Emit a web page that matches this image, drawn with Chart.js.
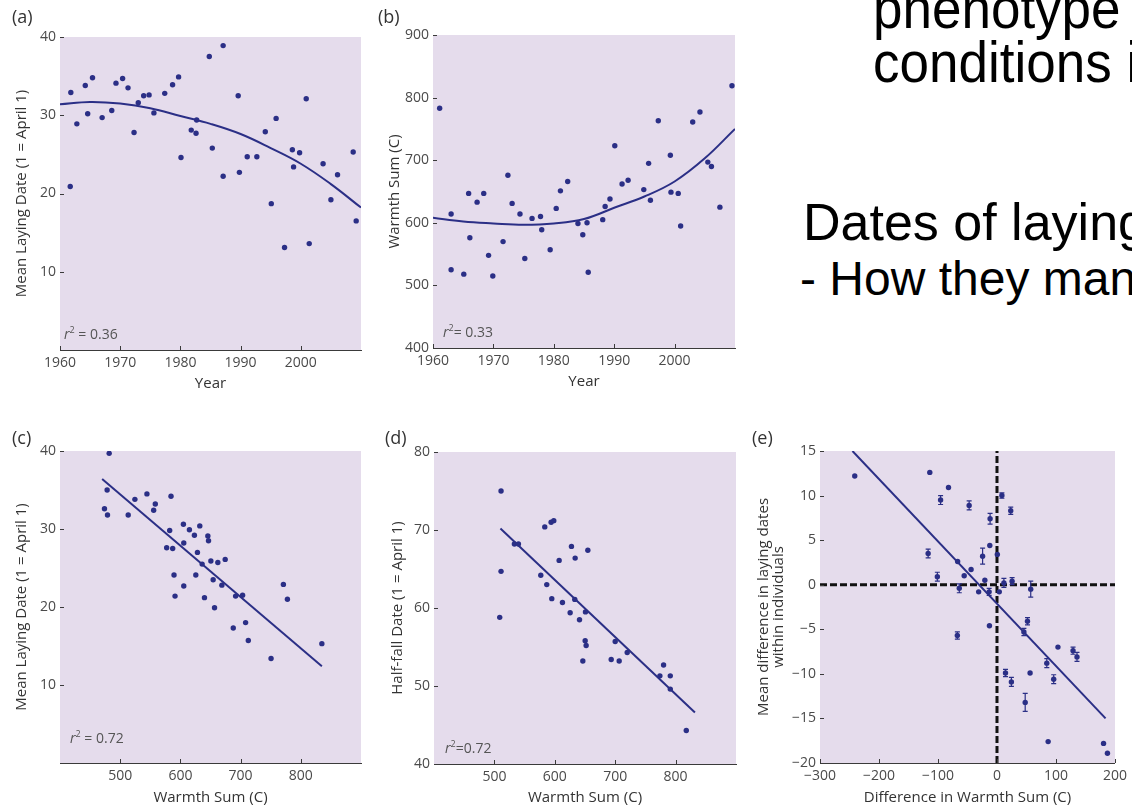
<!DOCTYPE html>
<html>
<head>
<meta charset="utf-8">
<script src="https://cdn.jsdelivr.net/npm/chart.js@4.4.1/dist/chart.umd.min.js"></script>
<style>
  html, body { margin: 0; padding: 0; background: #fff; }
  body { width: 1132px; height: 806px; position: relative; overflow: hidden; font-family: "Open Sans", sans-serif; }
  canvas { position: absolute; }
  .lbl { position: absolute; font-size: 18px; line-height: 22px; color: #333; }
  .r2 { position: absolute; font-size: 14px; line-height: 18px; color: #555; white-space: nowrap; }
  .r2 sup { font-size: 9px; vertical-align: 6px; line-height: 0; }
  .slide { position: absolute; font-family: "Liberation Sans", Arial, sans-serif; color: #000; white-space: nowrap; line-height: 1; }
  .tall { transform: scaleY(1.1); transform-origin: 0 85%; }
</style>
</head>
<body>
<canvas id="chartA" width="370" height="380" style="left:0px;top:20px"></canvas>
<canvas id="chartB" width="380" height="380" style="left:370px;top:20px"></canvas>
<canvas id="chartC" width="370" height="376" style="left:0px;top:430px"></canvas>
<canvas id="chartD" width="380" height="376" style="left:370px;top:430px"></canvas>
<canvas id="chartE" width="392" height="376" style="left:740px;top:430px"></canvas>

<div class="lbl" style="left:12px;top:5px">(a)</div>
<div class="lbl" style="left:378px;top:5px">(b)</div>
<div class="lbl" style="left:12px;top:426px">(c)</div>
<div class="lbl" style="left:385px;top:426px">(d)</div>
<div class="lbl" style="left:752px;top:426px">(e)</div>

<div class="r2" style="left:64px;top:325px"><i>r</i><sup>2</sup> = 0.36</div>
<div class="r2" style="left:443px;top:323px"><i>r</i><sup>2</sup>= 0.33</div>
<div class="r2" style="left:70px;top:729px"><i>r</i><sup>2</sup> = 0.72</div>
<div class="r2" style="left:445px;top:739px"><i>r</i><sup>2</sup>=0.72</div>

<div class="slide tall" style="left:873px;top:-17px;font-size:53px">phenotype</div>
<div class="slide tall" style="left:873px;top:37px;font-size:53px">conditions in</div>
<div class="slide" style="left:803px;top:196px;font-size:52px">Dates of laying</div>
<div class="slide" style="left:800px;top:255px;font-size:48px">- How they manage</div>

<script>
// (a) mean laying date by year
const yearsA = [1961.8, 1961.7, 1962.8, 1964.2, 1964.6, 1965.4, 1967.0, 1968.6, 1969.3, 1970.4, 1971.3, 1972.3, 1973.0, 1973.9, 1974.8, 1975.6, 1977.4, 1978.7, 1979.7, 1980.1, 1981.8, 1982.6, 1982.7, 1984.8, 1985.3, 1987.1, 1987.1, 1989.6, 1989.8, 1991.1, 1992.7, 1994.1, 1995.1, 1995.9, 1997.3, 1998.6, 1998.8, 1999.8, 2000.9, 2001.4, 2003.7, 2005.0, 2006.1, 2008.7, 2009.2];
const layingA = [32.9, 20.9, 28.9, 33.8, 30.2, 34.8, 29.7, 30.6, 34.1, 34.7, 33.5, 27.8, 31.6, 32.5, 32.6, 30.3, 32.8, 33.9, 34.9, 24.6, 28.1, 27.7, 29.4, 37.5, 25.8, 38.9, 22.2, 32.5, 22.7, 24.7, 24.7, 27.9, 18.7, 29.6, 13.1, 25.6, 23.4, 25.2, 32.1, 13.6, 23.8, 19.2, 22.4, 25.3, 16.5];
const fitYearsA = [1960, 1965, 1970, 1975, 1980, 1985, 1990, 1995, 2000, 2005, 2010];
const fitA = [31.4, 31.7, 31.5, 30.9, 29.9, 28.9, 27.6, 25.8, 23.8, 21.2, 18.2];

// (b) warmth sum by year
const yearsB = [1961.1, 1963.0, 1963.0, 1965.1, 1965.9, 1966.1, 1967.3, 1968.4, 1969.2, 1969.9, 1971.6, 1972.4, 1973.1, 1974.4, 1975.2, 1976.4, 1977.8, 1978.0, 1979.4, 1980.4, 1981.1, 1982.3, 1984.0, 1984.8, 1985.5, 1985.7, 1988.1, 1988.5, 1989.3, 1990.1, 1991.3, 1992.3, 1994.9, 1995.7, 1996.0, 1997.3, 1999.3, 1999.4, 2000.6, 2001.0, 2003.0, 2004.2, 2005.5, 2006.1, 2007.5, 2009.5];
const warmthB = [783, 614, 525, 518, 647, 576, 633, 647, 548, 515, 570, 676, 631, 614, 543, 607, 610, 589, 557, 623, 651, 666, 599, 581, 600, 521, 605, 626, 638, 723, 662, 668, 653, 695, 636, 763, 708, 649, 647, 595, 761, 777, 697, 690, 625, 819];
const fitYearsB = [1960, 1965, 1970, 1975, 1980, 1985, 1990, 1995, 2000, 2005, 2010];
const fitB = [608, 602, 599, 597, 599, 606, 624, 642, 666, 703, 750];

// (c) laying date vs warmth sum
const warmthC = [481.7, 473.9, 478.3, 478.9, 513.3, 524.4, 544.4, 555.6, 558.3, 584.4, 582.2, 577.2, 587.2, 589.4, 591.1, 605.0, 605.6, 605.6, 615.0, 623.3, 625.6, 628.3, 632.2, 636.1, 640.0, 645.6, 646.7, 650.6, 654.4, 656.7, 662.2, 668.9, 674.4, 687.8, 691.7, 703.3, 708.3, 712.8, 750.6, 771.1, 777.8, 835.0];
const layingC = [39.7, 32.6, 35.0, 31.8, 31.8, 33.8, 34.5, 32.4, 33.2, 34.2, 29.8, 27.6, 27.5, 24.1, 21.4, 30.6, 28.2, 22.7, 29.9, 29.2, 24.1, 27.0, 30.4, 25.5, 21.2, 29.1, 28.5, 25.9, 23.5, 19.9, 25.7, 22.8, 26.1, 17.3, 21.4, 21.5, 18.0, 15.7, 13.4, 22.9, 21.0, 15.3];
const fitXC = [470, 835];
const fitC = [36.4, 12.4];

// (d) half-fall date vs warmth sum
const warmthD = [511, 511, 508.8, 533.1, 539.8, 583.4, 593.9, 598.3, 607.2, 576.8, 586.7, 595, 612.7, 625.4, 627.6, 633.7, 633.1, 640.9, 650.8, 654.7, 650.3, 651.9, 646.4, 693.4, 700, 706.6, 719.9, 774, 780.1, 791.2, 791.2, 817.7];
const halfFallD = [75.0, 64.7, 58.8, 68.2, 68.2, 70.4, 71.0, 71.2, 66.1, 64.2, 63.0, 61.2, 60.7, 59.4, 67.9, 66.4, 61.1, 58.5, 59.5, 67.4, 55.8, 55.2, 53.2, 53.4, 55.7, 53.2, 54.3, 51.3, 52.7, 51.3, 49.6, 44.3];
const fitXD = [510, 832];
const fitD = [70.2, 46.6];

// (e) within-individual differences
const diffWarmthE = [-241.1, -113.9, -82.2, -95.6, -47.2, -11.7, 8.3, 23.3, -116.7, -101.1, -66.7, -55.6, -43.9, -63.9, -31.1, -20.6, -24.4, -12.2, -13.3, 0.6, 3.9, 11.7, 25.6, 57.2, -67.2, -12.8, 45.6, 51.7, 14.4, 24.4, 56.1, 47.8, 84.4, 96.1, 103.3, 128.9, 135.6, 86.7, 180.6, 187.2];
const diffLayE = [12.2, 12.6, 10.9, 9.5, 8.9, 7.4, 10.0, 8.3, 3.5, 0.9, 2.6, 1.0, 1.7, -0.4, -0.8, 0.5, 3.2, 4.4, -0.8, 3.4, -0.8, 0.2, 0.4, -0.5, -5.7, -4.6, -5.3, -4.1, -9.9, -10.9, -9.9, -13.2, -8.8, -10.6, -7.0, -7.4, -8.1, -17.6, -17.8, -18.9];
const errE = [0, 0, 0, 0.5, 0.5, 0.6, 0.3, 0.4, 0.5, 0.5, 0, 0, 0, 0.5, 0, 0, 0.9, 0, 0.4, 0, 0, 0.5, 0.4, 0.9, 0.4, 0, 0.4, 0.4, 0.4, 0.5, 0, 1.0, 0.5, 0.5, 0, 0.4, 0.5, 0, 0, 0];
const fitXE = [-245, 184];
const fitE = [15, -15];

// tick labels
const yearTicks = [1960, 1970, 1980, 1990, 2000];
const layingTicks = [10, 20, 30, 40];
const warmthTicks = [400, 500, 600, 700, 800, 900];
const warmthXTicks = [500, 600, 700, 800];
const halfFallTicks = [40, 50, 60, 70, 80];
const diffXTicks = [-300, -200, -100, 0, 100, 200];
const diffYTicks = [-20, -15, -10, -5, 0, 5, 10, 15];

const NAVY = '#2b2f86';
const PLOT_BG = '#e5dcec';
const AXIS = '#3a3a3a';

const pts = (xs, ys) => xs.map((x, i) => ({x: x, y: ys[i]}));

function dots(xs, ys, errs) {
    return {
        data: pts(xs, ys),
        errors: errs,
        pointRadius: 2.7,
        pointBackgroundColor: NAVY,
        pointBorderWidth: 0,
        order: 0
    };
}

function fitLine(xs, ys, tension) {
    return {
        data: pts(xs, ys),
        showLine: true,
        pointRadius: 0,
        borderColor: NAVY,
        borderWidth: 2,
        tension: tension,
        order: 1
    };
}

function dashLine(xs, ys) {
    return {
        data: pts(xs, ys),
        showLine: true,
        pointRadius: 0,
        borderColor: '#111',
        borderWidth: 3,
        borderDash: [7, 3],
        order: 2
    };
}

const plotBg = {
    id: 'plotBg',
    beforeDatasetsDraw(chart) {
        const a = chart.chartArea;
        const ctx = chart.ctx;
        ctx.save();
        ctx.fillStyle = PLOT_BG;
        ctx.fillRect(a.left, a.top, a.right - a.left, a.bottom - a.top);
        ctx.restore();
    }
};

// small tick marks pointing into the plot
const inTicks = {
    id: 'inTicks',
    afterDraw(chart) {
        const ctx = chart.ctx;
        const a = chart.chartArea;
        ctx.save();
        ctx.strokeStyle = AXIS;
        ctx.lineWidth = 1;
        chart.scales.x.ticks.forEach(t => {
            const px = Math.round(chart.scales.x.getPixelForValue(t.value)) + 0.5;
            ctx.beginPath();
            ctx.moveTo(px, a.bottom);
            ctx.lineTo(px, a.bottom - 4);
            ctx.stroke();
        });
        chart.scales.y.ticks.forEach(t => {
            const py = Math.round(chart.scales.y.getPixelForValue(t.value)) + 0.5;
            ctx.beginPath();
            ctx.moveTo(a.left, py);
            ctx.lineTo(a.left + 4, py);
            ctx.stroke();
        });
        ctx.restore();
    }
};

const errBars = {
    id: 'errBars',
    afterDatasetsDraw(chart) {
        const ctx = chart.ctx;
        const xs = chart.scales.x, ys = chart.scales.y;
        ctx.save();
        ctx.strokeStyle = NAVY;
        ctx.lineWidth = 1.2;
        chart.data.datasets.forEach(ds => {
            if (!ds.errors) return;
            ds.data.forEach((p, i) => {
                const e = ds.errors[i];
                if (!e) return;
                const px = xs.getPixelForValue(p.x);
                const top = ys.getPixelForValue(p.y + e);
                const bot = ys.getPixelForValue(p.y - e);
                ctx.beginPath();
                ctx.moveTo(px, top); ctx.lineTo(px, bot);
                ctx.moveTo(px - 2.5, top); ctx.lineTo(px + 2.5, top);
                ctx.moveTo(px - 2.5, bot); ctx.lineTo(px + 2.5, bot);
                ctx.stroke();
            });
        });
        ctx.restore();
    }
};

function axis(o, isY) {
    return {
        type: 'linear',
        min: o.min,
        max: o.max,
        afterBuildTicks: s => { s.ticks = o.ticks.map(v => ({value: v})); },
        afterFit: s => { if (isY) s.width = o.size; else s.height = o.size; },
        grid: {display: false, drawTicks: false},
        border: {display: true, color: AXIS, width: 1},
        ticks: {
            padding: isY ? 4 : 5,
            color: '#4a4a4a',
            font: {family: 'Open Sans', size: 14},
            callback: v => String(v).replace('-', '\u2212')
        },
        title: {
            display: true,
            text: o.title,
            color: '#333',
            font: {family: 'Open Sans', size: 15, lineHeight: 1.0},
            padding: o.titlePad
        }
    };
}

function panel(id, pad, datasets, xOpt, yOpt) {
    return new Chart(document.getElementById(id), {
        type: 'scatter',
        data: {datasets: datasets},
        options: {
            responsive: false,
            animation: false,
            events: [],
            layout: {padding: pad},
            plugins: {legend: {display: false}, tooltip: {enabled: false}},
            scales: {x: axis(xOpt, false), y: axis(yOpt, true)}
        },
        plugins: [plotBg, errBars, inTicks]
    });
}

panel('chartA', {top: 17, right: 9, left: 0, bottom: 0},
    [dots(yearsA, layingA), fitLine(fitYearsA, fitA, 0.4)],
    {min: 1960, max: 2010, ticks: yearTicks, size: 50, title: 'Year', titlePad: {top: 0, bottom: 9}},
    {min: 0, max: 40, ticks: layingTicks, size: 60, title: 'Mean Laying Date (1 = April 1)', titlePad: {top: 14, bottom: 0}});

panel('chartB', {top: 15, right: 15, left: 0, bottom: 0},
    [dots(yearsB, warmthB), fitLine(fitYearsB, fitB, 0.4)],
    {min: 1960, max: 2010, ticks: yearTicks, size: 52, title: 'Year', titlePad: {top: 0, bottom: 11}},
    {min: 400, max: 900, ticks: warmthTicks, size: 63, title: 'Warmth Sum (C)', titlePad: {top: 17, bottom: 0}});

panel('chartC', {top: 21, right: 9, left: 0, bottom: 0},
    [dots(warmthC, layingC), fitLine(fitXC, fitC, 0)],
    {min: 400, max: 900, ticks: warmthXTicks, size: 43, title: 'Warmth Sum (C)', titlePad: {top: 0, bottom: 1}},
    {min: 0, max: 40, ticks: layingTicks, size: 60, title: 'Mean Laying Date (1 = April 1)', titlePad: {top: 14, bottom: 0}});

panel('chartD', {top: 22, right: 14, left: 0, bottom: 0},
    [dots(warmthD, halfFallD), fitLine(fitXD, fitD, 0)],
    {min: 400, max: 900, ticks: warmthXTicks, size: 42, title: 'Warmth Sum (C)', titlePad: {top: 0, bottom: 1}},
    {min: 40, max: 80, ticks: halfFallTicks, size: 64, title: 'Half-fall Date (1 = April 1)', titlePad: {top: 20, bottom: 0}});

panel('chartE', {top: 21, right: 12, left: 0, bottom: 0},
    [dots(diffWarmthE, diffLayE, errE), fitLine(fitXE, fitE, 0),
     dashLine([-300, 200], [0, 0]), dashLine([0, 0], [-20, 15])],
    {min: -300, max: 200, ticks: diffXTicks, size: 43, title: 'Difference in Warmth Sum (C)', titlePad: {top: 0, bottom: 1}},
    {min: -20, max: 15, ticks: diffYTicks, size: 80, title: ['Mean difference in laying dates', 'within individuals'], titlePad: {top: 16, bottom: 0}});
</script>
</body>
</html>
